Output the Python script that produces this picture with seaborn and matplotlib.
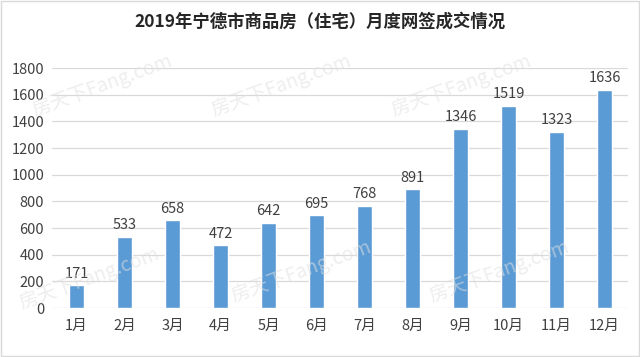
import pandas as pd
import seaborn as sns
import matplotlib.pyplot as plt

months = ['1月', '2月', '3月', '4月', '5月', '6月',
          '7月', '8月', '9月', '10月', '11月', '12月']
deals = [171, 533, 658, 472, 642, 695, 768, 891, 1346, 1519, 1323, 1636]
y_ticks = [0, 200, 400, 600, 800, 1000, 1200, 1400, 1600, 1800]
title = '2019年宁德市商品房（住宅）月度网签成交情况'

sns.set_style('white')
plt.rcParams['font.family'] = ['Noto Sans CJK SC', 'DejaVu Sans']

df = pd.DataFrame({'month': months, 'deals': deals})

fig = plt.figure(figsize=(6.4, 3.57), dpi=100)
ax = fig.add_axes([0.082, 0.137, 0.9, 0.672])
sns.barplot(data=df, x='month', y='deals', color='#5B9BD5',
            saturation=1, width=0.32, ax=ax)

for i, v in enumerate(deals):
    ax.text(i, v + 35, str(v), ha='center', va='bottom',
            fontsize=10.5, color='#404040')

ax.set_ylim(0, 1800)
ax.set_yticks(y_ticks)
ax.set_xlim(-0.5, 11.5)
ax.yaxis.grid(True, color='#D9D9D9', linewidth=0.9)
ax.set_axisbelow(True)
for s in ax.spines.values():
    s.set_visible(False)
ax.tick_params(axis='both', length=0, labelsize=10.5, colors='#404040')
ax.tick_params(axis='x', pad=8)
ax.tick_params(axis='y', pad=6)
ax.set_xlabel('')
ax.set_ylabel('')

fig.text(0.5, 0.94, title, ha='center', va='center', fontsize=12.5,
         fontweight='bold', color='#262626')

# faint watermarks
for wx, wy in [(0.16, 0.76), (0.44, 0.76), (0.72, 0.76),
               (0.14, 0.22), (0.47, 0.24), (0.78, 0.24)]:
    fig.text(wx, wy, '房天下Fang.com', ha='center', va='center',
             fontsize=14, rotation=20, color='#E0E0E0', alpha=0.55)

fig.patches.append(plt.Rectangle((0.002, 0.003), 0.996, 0.994,
                                 transform=fig.transFigure, fill=False,
                                 edgecolor='#D9D9D9', linewidth=1))

fig.savefig('out.png', dpi=100)
